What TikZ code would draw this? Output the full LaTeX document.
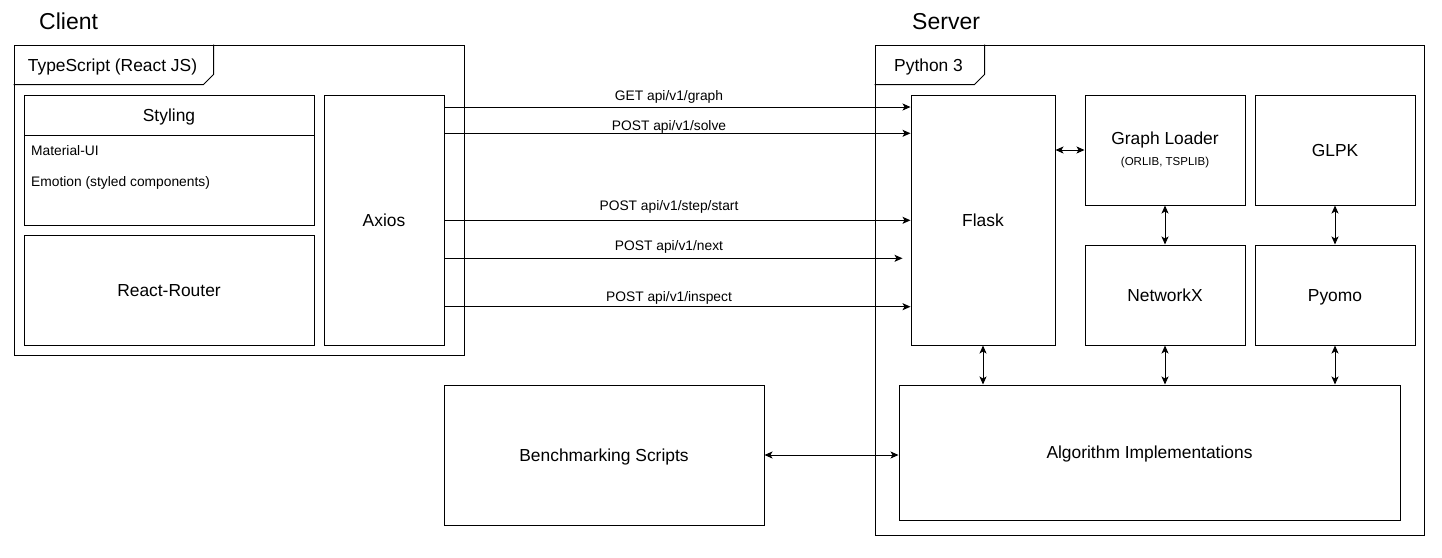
\documentclass[tikz,border=0pt]{standalone}
\usepackage{fontspec}
\setmainfont{Liberation Sans}
\usetikzlibrary{arrows.meta}
\begin{document}
\begin{tikzpicture}[x=1pt,y=-1pt,
  box/.style={draw, line width=1pt, rectangle, inner sep=0pt, font=\fontsize{17.4}{20}\selectfont},
  one/.style={text height=12.5pt, text depth=0pt},
  title/.style={font=\fontsize{23}{26}\selectfont, inner sep=0pt, anchor=base west},
  tabtext/.style={font=\fontsize{17.4}{20}\selectfont, inner sep=0pt, anchor=base west},
  small/.style={font=\fontsize{13.8}{16}\selectfont, inner sep=0pt, anchor=base west},
  lbl/.style={font=\fontsize{13.8}{16}\selectfont, inner sep=0pt, anchor=base},
  arr/.style={line width=1pt, -{Stealth[length=8pt,width=7pt,inset=2pt]}},
  darr/.style={line width=1pt, {Stealth[length=8pt,width=7pt,inset=2pt]}-{Stealth[length=8pt,width=7pt,inset=2pt]}},
  tabline/.style={line width=1pt},
]
\useasboundingbox (0,0) rectangle (1442,557);

% titles
\node[title] (clienttitle) at (39,29.5) {Client};
\node[title] (servertitle) at (912,29.5) {Server};

% client frame
\node[box, minimum width=450pt, minimum height=310pt] (clientframe) at (239,200) {};
\draw[tabline] (clientframe.north west) ++(0,40) -- ++(190,0) -- ++(10,-10) -- ++(0,-30);
\node[tabtext] (clienttab) at (27.7,71) {TypeScript (React JS)};

% styling
\node[box, one, minimum width=290pt, minimum height=40pt] (stylhead) at (169,115) {Styling};
\node[box, minimum width=290pt, minimum height=90pt] (stylbody) at (169,180) {};
\node[small] (mui) at (31,155.5) {Material-UI};
\node[small] (emotion) at (31,186) {Emotion (styled components)};

\node[box, one, minimum width=290pt, minimum height=110pt] (router) at (169,290) {React-Router};
\node[box, one, minimum width=120pt, minimum height=250pt] (axios) at (384,220) {Axios};

% server frame
\node[box, minimum width=549pt, minimum height=490pt] (serverframe) at (1149.5,290) {};
\draw[tabline] (serverframe.north west) ++(0,40) -- ++(100,0) -- ++(10,-10) -- ++(0,-30);
\node[tabtext] (servertab) at (894,71.7) {Python 3};

\node[box, one, minimum width=144pt, minimum height=250pt] (flask) at (983,220) {Flask};
\node[box, align=center, minimum width=160pt, minimum height=110pt] (graphloader) at (1165,150) {Graph Loader\\[1pt]{\fontsize{11.5}{13}\selectfont (ORLIB, TSPLIB)}};
\node[box, one, minimum width=160pt, minimum height=110pt] (glpk) at (1335,150) {GLPK};
\node[box, one, minimum width=160pt, minimum height=100pt] (networkx) at (1165,295) {NetworkX};
\node[box, one, minimum width=160pt, minimum height=100pt] (pyomo) at (1335,295) {Pyomo};
\node[box, one, minimum width=501pt, minimum height=135pt] (algo) at (1149.5,452.5) {Algorithm Implementations};

\node[box, one, minimum width=320pt, minimum height=140pt] (bench) at (604,455) {Benchmarking Scripts};

% requests
\draw[arr] (axios.east |- 0,107) -- (flask.west |- 0,107);
\draw[arr] (axios.east |- 0,133.3) -- (flask.west |- 0,133.3);
\draw[arr] (axios.east |- 0,220.3) -- (flask.west |- 0,220.3);
\draw[arr, shorten >=8pt] (axios.east |- 0,258.3) -- (flask.west |- 0,258.3);
\draw[arr] (axios.east |- 0,306.7) -- (flask.west |- 0,306.7);
\node[lbl] (lgraph) at (669,100.7) {GET api/v1/graph};
\node[lbl] (lsolve) at (669,130.7) {POST api/v1/solve};
\node[lbl] (lstart) at (669,210.7) {POST api/v1/step/start};
\node[lbl] (lnext) at (669,250.7) {POST api/v1/next};
\node[lbl] (linspect) at (669,301.7) {POST api/v1/inspect};

% server links
\draw[darr] (flask.east |- graphloader.west) -- (graphloader.west);
\draw[darr] (graphloader.south) -- (networkx.north);
\draw[darr] (glpk.south) -- (pyomo.north);
\draw[darr] (flask.south) -- (flask.south |- algo.north);
\draw[darr] (networkx.south) -- (networkx.south |- algo.north);
\draw[darr] (pyomo.south) -- (pyomo.south |- algo.north);
\draw[darr] (bench.east) -- (bench.east -| algo.west);
\end{tikzpicture}
\end{document}
